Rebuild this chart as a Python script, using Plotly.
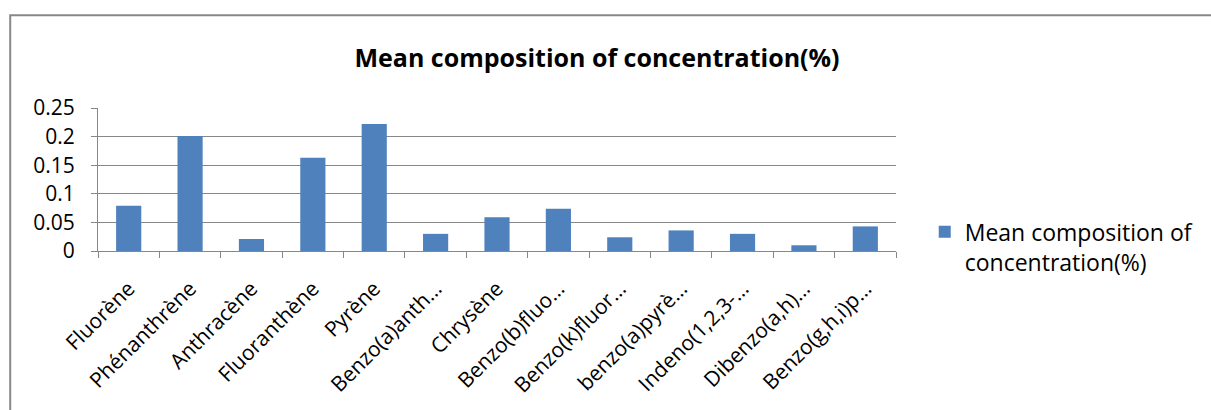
import plotly.graph_objects as go

categories = [
    "Fluorène", "Phénanthrène", "Anthracène", "Fluoranthène", "Pyrène",
    "Benzo(a)anth…", "Chrysène", "Benzo(b)fluo…", "Benzo(k)fluor…",
    "benzo(a)pyrè…", "Indeno(1,2,3-…", "Dibenzo(a,h)…", "Benzo(g,h,i)p…",
]
mean_composition = [
    0.079, 0.201, 0.021, 0.163, 0.222, 0.030, 0.059,
    0.074, 0.024, 0.036, 0.030, 0.010, 0.043,
]
y_ticks = [0, 0.05, 0.1, 0.15, 0.2, 0.25]
y_tick_labels = ["0", "0.05", "0.1", "0.15", "0.2", "0.25"]

FONT = "Open Sans"
GRID = "#878787"

fig = go.Figure()

fig.add_trace(
    go.Bar(
        x=categories,
        y=mean_composition,
        name="Mean composition of<br>concentration(%)",
        marker=dict(color="#4F81BD", line=dict(width=0)),
    )
)

fig.update_layout(
    width=1211,
    height=410,
    margin={"l": 98, "r": 313, "t": 108, "b": 159},
    paper_bgcolor="white",
    plot_bgcolor="white",
    font=dict(family=FONT, size=22, color="black"),
    bargap=0.59,
    showlegend=True,
    title=dict(
        text="<b>Mean composition of concentration(%)</b>",
        font=dict(family=FONT, size=25, color="black"),
        xref="container",
        x=597 / 1211,
        xanchor="center",
        yref="container",
        y=1 - 58 / 410,
        yanchor="middle",
    ),
    legend=dict(
        x=1.036,
        xanchor="left",
        y=0.03,
        yanchor="middle",
        valign="top",
        font=dict(family=FONT, size=23, color="black"),
        bgcolor="rgba(0,0,0,0)",
    ),
)

fig.update_xaxes(
    showgrid=False,
    showline=True,
    linecolor=GRID,
    linewidth=1,
    ticks="outside",
    tickson="boundaries",
    ticklen=6,
    tickcolor=GRID,
    tickangle=-45,
    ticklabelstandoff=16,
    tickfont=dict(family=FONT, size=21),
)

fig.update_yaxes(
    range=[0, 0.25],
    tickvals=y_ticks,
    ticktext=y_tick_labels,
    showgrid=True,
    gridcolor=GRID,
    gridwidth=1,
    showline=True,
    linecolor=GRID,
    linewidth=1,
    ticks="outside",
    ticklen=6,
    tickcolor=GRID,
    zeroline=False,
    ticklabelstandoff=12,
    tickfont=dict(family=FONT, size=21),
)

# outer chart border (goes past the right and bottom edges)
fig.add_shape(
    type="rect",
    xref="paper",
    yref="paper",
    x0=(10 - 98) / 800,
    x1=(1230 - 98) / 800,
    y0=(250.7 - 430) / 142.4,
    y1=(250.7 - 16) / 142.4,
    line=dict(color="#888888", width=2),
    fillcolor="rgba(0,0,0,0)",
    layer="below",
)

fig.write_html(
    "out.html",
    config={"displayModeBar": False},
    post_script="document.body.style.margin='0';",
)
